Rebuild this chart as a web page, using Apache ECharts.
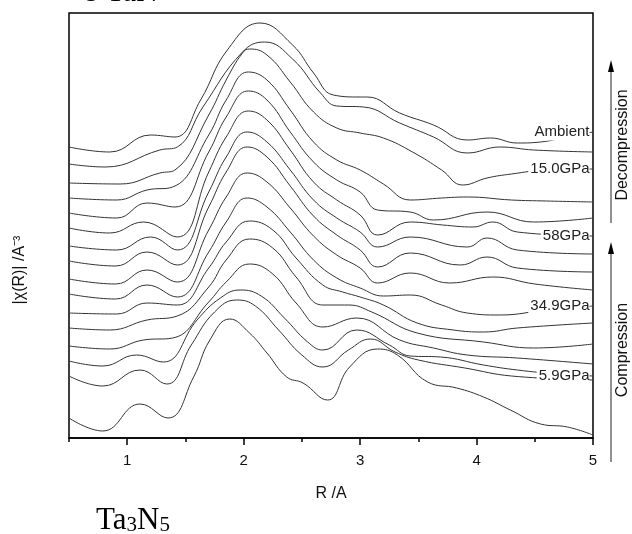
<!DOCTYPE html>
<html>
<head>
<meta charset="utf-8">
<script src="https://cdn.jsdelivr.net/npm/echarts@6/dist/echarts.min.js"></script>
<style>
  html, body { margin: 0; padding: 0; background: #fff; }
  #chart { width: 632px; height: 534px; }
</style>
</head>
<body>
<div id="chart"></div>
<script>
// R (A) and stacked |chi(R)| in arbitrary offset units
var c01 = [[0.5,291],[0.85,286],[1.2,303],[1.41,301],[1.63,338],[1.86,388],[2.14,415],[2.42,393],[2.6,365],[2.77,343],[3.0,341],[3.06,341],[3.34,325],[3.63,313],[3.92,298],[4.12,300],[4.35,295],[4.55,296],[4.8,302],[5.0,306]];
var c02 = [[0.5,274],[0.81,271],[1.28,288],[1.43,291],[1.65,331],[1.99,386],[2.18,396],[2.42,379],[2.66,345],[2.8,332],[3.03,331],[3.34,315],[3.63,301],[3.92,285],[4.2,291],[4.49,288],[5.0,286]];
var c03 = [[0.5,255],[0.94,254],[1.28,265],[1.41,268],[1.7,323],[1.85,358],[1.99,385],[2.05,389],[2.2,383],[2.4,356],[2.6,326],[2.8,310],[3.0,305],[3.2,300],[3.45,286],[3.7,268],[3.88,253],[4.09,260],[4.3,264],[4.6,268],[5.0,269]];
var c04 = [[0.5,240],[0.91,238],[1.17,248],[1.39,251],[1.7,303],[1.85,338],[2.04,366],[2.2,358],[2.4,328],[2.6,296],[2.8,278],[3.0,268],[3.2,254],[3.43,238],[3.7,240],[3.92,241],[4.3,238],[4.6,237],[5.0,236]];
var c05 = [[0.5,225],[0.91,220],[1.17,235],[1.41,231],[1.7,286],[1.85,321],[2.04,347],[2.2,338],[2.4,306],[2.6,276],[2.8,258],[3.0,246],[3.15,228],[3.43,226],[3.63,218],[4.09,226],[4.49,216],[5.0,220]];
var c06 = [[0.5,210],[0.85,205],[1.14,216],[1.43,201],[1.7,266],[1.85,301],[2.04,327],[2.2,318],[2.4,288],[2.6,256],[2.8,238],[3.0,223],[3.15,203],[3.43,216],[3.71,213],[3.97,211],[4.14,216],[4.35,206],[5.0,202]];
var c07 = [[0.5,192],[0.91,188],[1.2,201],[1.43,188],[1.7,246],[1.85,281],[2.03,306],[2.2,296],[2.4,268],[2.6,238],[2.8,220],[3.0,206],[3.15,191],[3.43,201],[3.92,191],[4.09,200],[4.35,188],[5.0,184]];
var c08 = [[0.5,177],[0.9,172],[1.17,186],[1.43,173],[1.7,231],[1.85,266],[2.03,291],[2.2,281],[2.4,252],[2.6,222],[2.8,203],[3.0,188],[3.15,171],[3.43,185],[3.86,173],[4.09,181],[4.35,170],[5.0,166]];
var c09 = [[0.5,159],[0.9,154],[1.17,168],[1.43,156],[1.7,208],[1.85,241],[2.03,265],[2.2,256],[2.4,230],[2.6,202],[2.8,183],[3.0,170],[3.15,155],[3.43,165],[3.77,155],[4.14,161],[4.5,154],[5.0,148]];
var c10 = [[0.5,144],[0.9,139],[1.17,153],[1.43,141],[1.7,186],[1.85,216],[2.03,240],[2.2,231],[2.4,206],[2.6,178],[2.8,160],[3.0,150],[3.2,142],[3.43,143],[3.7,133],[3.92,125],[4.2,123],[4.6,128],[5.0,132]];
var c11 = [[0.5,125],[0.91,124],[1.17,135],[1.43,133],[1.7,170],[1.85,196],[2.05,217],[2.25,208],[2.45,180],[2.68,153],[2.85,146],[3.0,141],[3.2,133],[3.49,115],[3.8,108],[4.06,106],[4.35,110],[5.0,115]];
var c12 = [[0.5,110],[0.85,108],[1.17,118],[1.43,122],[1.7,151],[1.85,178],[2.05,199],[2.25,190],[2.45,161],[2.68,133],[2.9,133],[3.1,126],[3.49,105],[4.06,96],[4.49,90],[5.0,94]];
var c13 = [[0.5,92],[0.85,89],[1.14,98],[1.39,100],[1.7,136],[1.85,156],[2.05,174],[2.25,164],[2.45,135],[2.68,111],[2.97,120],[3.34,98],[3.63,90],[3.92,83],[4.35,80],[5.0,74]];
var c14 = [[0.5,77],[0.79,72],[1.08,83],[1.31,76],[1.6,118],[1.8,140],[1.97,148],[2.15,142],[2.35,120],[2.55,96],[2.68,88],[2.97,108],[3.25,93],[3.43,82],[3.69,81],[4.06,73],[4.35,68],[4.7,64],[5.0,62]];
var c15 = [[0.5,62],[0.79,52],[1.11,68],[1.34,54],[1.55,93],[1.75,126],[1.94,138],[2.1,132],[2.3,108],[2.5,83],[2.68,71],[2.9,88],[3.09,99],[3.3,86],[3.5,78],[3.9,70],[4.3,62],[5.0,58]];
var c16 = [[0.5,20],[0.79,7],[1.11,34],[1.35,20],[1.57,61],[1.71,98],[1.88,119],[2.05,105],[2.2,85],[2.37,61],[2.51,55],[2.72,38],[2.91,71],[3.15,89],[3.32,83],[3.58,56],[3.83,50],[4.06,41],[4.29,28],[4.55,14],[4.78,11],[5.0,3]];

var curves = [c01, c02, c03, c04, c05, c06, c07, c08, c09, c10, c11, c12, c13, c14, c15, c16];
// pressure labels shown at the right end of some curves
var labelNames = ['Ambient', '', '15.0GPa', '', '', '58GPa', '', '', '', '34.9GPa', '', '', '', '5.9GPa', '', ''];
var majorTicks = [1, 2, 3, 4, 5];

var chart = echarts.init(document.getElementById('chart'));

var series = curves.map(function (c, i) {
  var s = {
    type: 'line',
    data: c,
    smooth: 0.45,
    symbol: 'none',
    showSymbol: false,
    lineStyle: { color: '#333', width: 1 },
    emphasis: { disabled: true },
    z: 2
  };
  if (labelNames[i]) {
    s.markPoint = {
      silent: true,
      symbol: 'rect',
      symbolSize: 1,
      itemStyle: { color: 'rgba(0,0,0,0)' },
      label: {
        show: true, position: 'left', distance: 3,
        formatter: labelNames[i],
        fontFamily: 'Liberation Sans, Arial', fontSize: 15, color: '#222',
        backgroundColor: '#fff', padding: [1, 0, 1, 2]
      },
      data: [{ coord: c[c.length - 1] }]
    };
  }
  return s;
});

chart.setOption({
  animation: false,
  grid: { left: 69, right: 39, top: 13, bottom: 96, show: true, borderColor: '#000', borderWidth: 1.5 },
  xAxis: [{
    type: 'value', min: 0.5, max: 5, interval: 0.5,
    name: 'R /A', nameLocation: 'middle', nameGap: 48,
    nameTextStyle: { fontFamily: 'Liberation Sans, Arial', fontSize: 16, color: '#111' },
    axisLine: { show: true, lineStyle: { color: '#000', width: 1.5 } },
    axisTick: { show: true, length: 7, customValues: majorTicks, lineStyle: { color: '#000', width: 1.5 } },
    axisLabel: { show: true, customValues: majorTicks, margin: 15, fontFamily: 'Liberation Sans, Arial', fontSize: 15, color: '#111' },
    splitLine: { show: false }
  }, {
    type: 'value', min: 0.5, max: 5, interval: 0.5, position: 'bottom',
    axisLine: { show: false },
    axisTick: { show: true, length: 4, lineStyle: { color: '#000', width: 1.5 } },
    axisLabel: { show: false },
    splitLine: { show: false }
  }],
  yAxis: {
    type: 'value', min: 0, max: 425,
    axisLine: { show: false }, axisTick: { show: false },
    axisLabel: { show: false }, splitLine: { show: false }
  },
  series: series,
  graphic: [
    { type: 'text', x: 84, y: 8, style: { text: 'ε-TaN', fontFamily: 'Liberation Serif, Times New Roman', fontSize: 30, fill: '#000', verticalAlign: 'bottom' } },
    { type: 'text', x: 96, y: 536, style: {
      text: 'Ta{s|3}N{s|5}', fontFamily: 'Liberation Serif, Times New Roman', fontSize: 31, fill: '#000', verticalAlign: 'bottom',
      rich: { s: { fontFamily: 'Liberation Serif, Times New Roman', fontSize: 21, padding: [10, 0, 0, 0], fill: '#000' } }
    } },
    { type: 'text', x: 20, y: 270, rotation: Math.PI / 2, style: {
      text: '|χ(R)| /A⁻³', fontFamily: 'Liberation Sans, Arial', fontSize: 16, fill: '#111', align: 'center', verticalAlign: 'middle'
    } },
    // decompression arrow
    { type: 'line', shape: { x1: 611, y1: 223, x2: 611, y2: 72 }, style: { stroke: '#222', lineWidth: 1 } },
    { type: 'polygon', shape: { points: [[608, 72], [614, 72], [611, 60]] }, style: { fill: '#000' } },
    { type: 'text', x: 623, y: 145, rotation: Math.PI / 2, style: {
      text: 'Decompression', fontFamily: 'Liberation Sans, Arial', fontSize: 16, fill: '#111', align: 'center', verticalAlign: 'middle'
    } },
    // compression arrow
    { type: 'line', shape: { x1: 611, y1: 462, x2: 611, y2: 254 }, style: { stroke: '#222', lineWidth: 1 } },
    { type: 'polygon', shape: { points: [[608, 254], [614, 254], [611, 242]] }, style: { fill: '#000' } },
    { type: 'text', x: 623, y: 350, rotation: Math.PI / 2, style: {
      text: 'Compression', fontFamily: 'Liberation Sans, Arial', fontSize: 16, fill: '#111', align: 'center', verticalAlign: 'middle'
    } }
  ]
});
</script>
</body>
</html>
